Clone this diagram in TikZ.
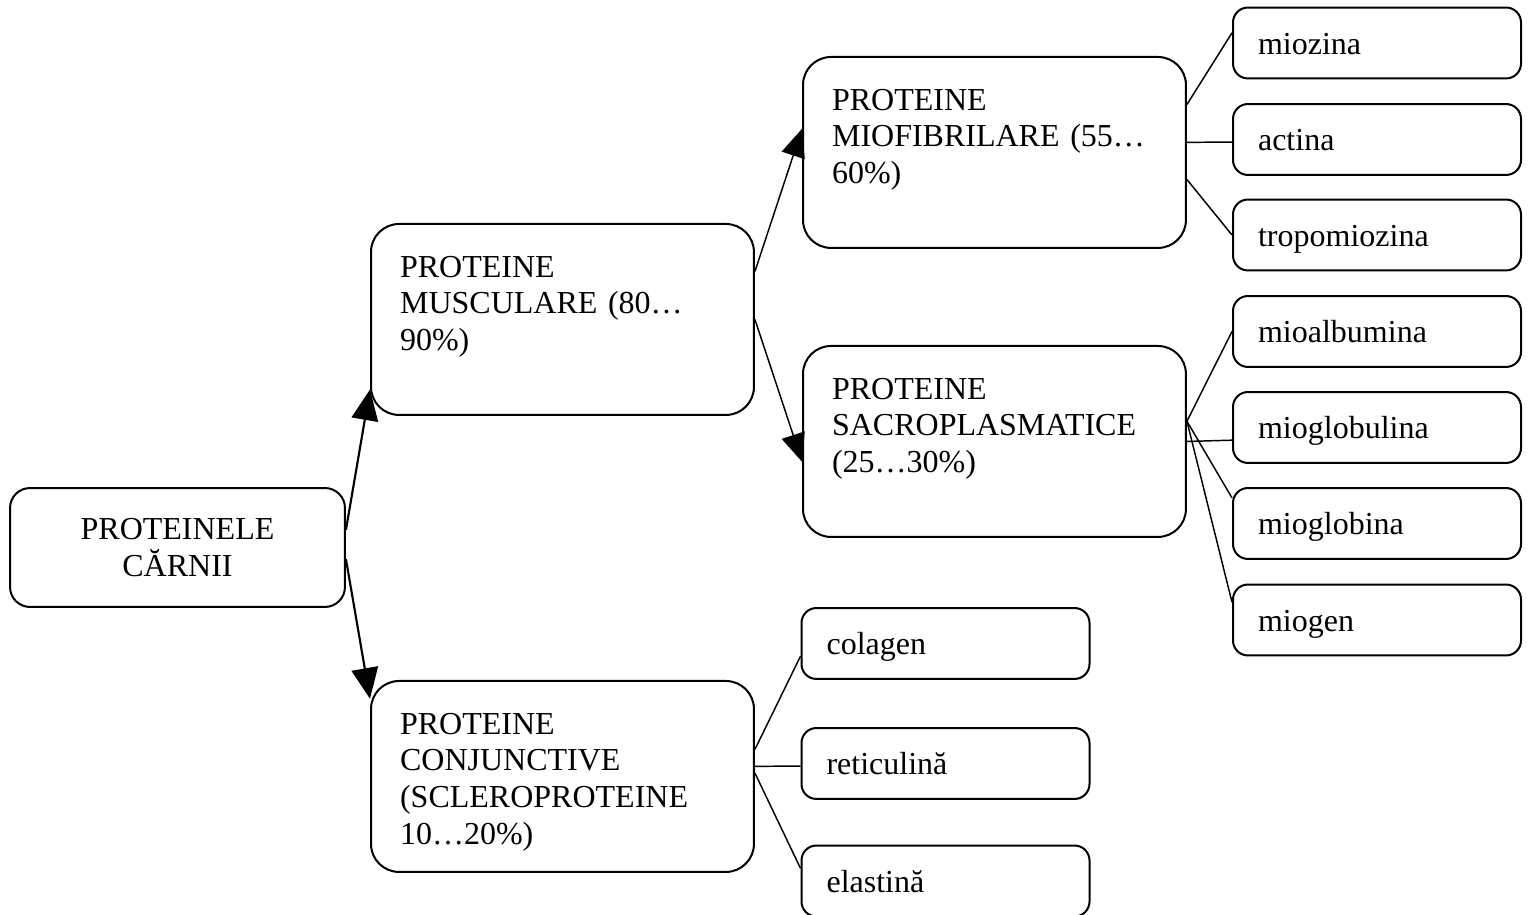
\documentclass[tikz,border=0pt]{standalone}
\usepackage{fontspec}
\setmainfont{Liberation Serif}
\usepackage{tikz}
\usetikzlibrary{arrows.meta}

\tikzset{
  groupbox/.style={draw, line width=0.75pt, rounded corners=10.5pt, anchor=north west,
    align=left, text width=121.8pt, inner xsep=10.9pt, inner ysep=0pt,
    text height=19.9pt, text depth=51.7pt},
  rootbox/.style={draw, line width=0.75pt, rounded corners=7.5pt, align=center,
    minimum width=125.6pt, minimum height=44.6pt, inner sep=0pt},
  leafbox/.style={draw, line width=0.75pt, rounded corners=5.6pt, align=left,
    text width=89.2pt, inner xsep=9.4pt, inner ysep=0pt, minimum height=26.6pt,
    text height=11.1pt, text depth=2.5pt},
  mainarrow/.style={line width=0.8pt, -{Triangle[length=11.5pt,width=10pt]}},
  subarrow/.style={line width=0.55pt, -{Triangle[length=10.5pt,width=9pt]}},
  branch/.style={line width=0.55pt}
}

\begin{document}
\begin{tikzpicture}[x=0.375pt, y=-0.375pt, font=\fontsize{12pt}{13.8pt}\selectfont]
    \useasboundingbox (0,0) rectangle (1530,915);

    % Root
    \node[rootbox] (carne) at (177.5,547.5) {PROTEINELE\\CĂRNII};

    % Main groups
    \node[groupbox] (musculare) at (370,223) {PROTEINE\\MUSCULARE (80…\\90\%)};
    \node[groupbox] (conjunctive) at (370,680) {PROTEINE\\CONJUNCTIVE\\(SCLEROPROTEINE\\10…20\%)};
    \node[groupbox] (miofibrilare) at (802,56) {PROTEINE\\MIOFIBRILARE (55…\\60\%)};
    \node[groupbox] (sacroplasm) at (802,345) {PROTEINE\\SACROPLASMATICE\\(25…30\%)};

    % Leaves, right column
    \node[leafbox] (miozina) at (1377,43) {miozina};
    \node[leafbox] (actina) at (1377,139.5) {actina};
    \node[leafbox] (tropomiozina) at (1377,235) {tropomiozina};
    \node[leafbox] (mioalbumina) at (1377,331.5) {mioalbumina};
    \node[leafbox] (mioglobulina) at (1377,427.5) {mioglobulina};
    \node[leafbox] (mioglobina) at (1377,523.5) {mioglobina};
    \node[leafbox] (miogen) at (1377,620) {miogen};

    % Leaves, connective proteins
    \node[leafbox] (colagen) at (945.5,643.5) {colagen};
    \node[leafbox] (reticulina) at (945.5,763.5) {reticulină};
    \node[leafbox] (elastina) at (945.5,881) {elastină};

    % Arrows
    \draw[mainarrow] (carne.6) -- (musculare.200);
    \draw[mainarrow] (carne.-4) -- (conjunctive.158);
    \draw[subarrow] (musculare.14) -- (miofibrilare.173);
    \draw[subarrow] (musculare.east) -- (sacroplasm.186);

    % Branch lines
    \draw[branch] (miofibrilare.14) -- (miozina.176);
    \draw[branch] (miofibrilare.3) -- (actina.181);
    \draw[branch] (miofibrilare.-8) -- (tropomiozina.west);
    \draw[branch] (sacroplasm.6) -- (mioalbumina.west);
    \draw[branch] (sacroplasm.east) -- (mioglobulina.185);
    \draw[branch] (sacroplasm.6) -- (mioglobina.170);
    \draw[branch] (sacroplasm.6) -- (miogen.173);
    \draw[branch] (conjunctive.8) -- (colagen.185);
    \draw[branch] (conjunctive.3) -- (reticulina.181);
    \draw[branch] (conjunctive.1.5) -- (elastina.175);
\end{tikzpicture}
\end{document}
